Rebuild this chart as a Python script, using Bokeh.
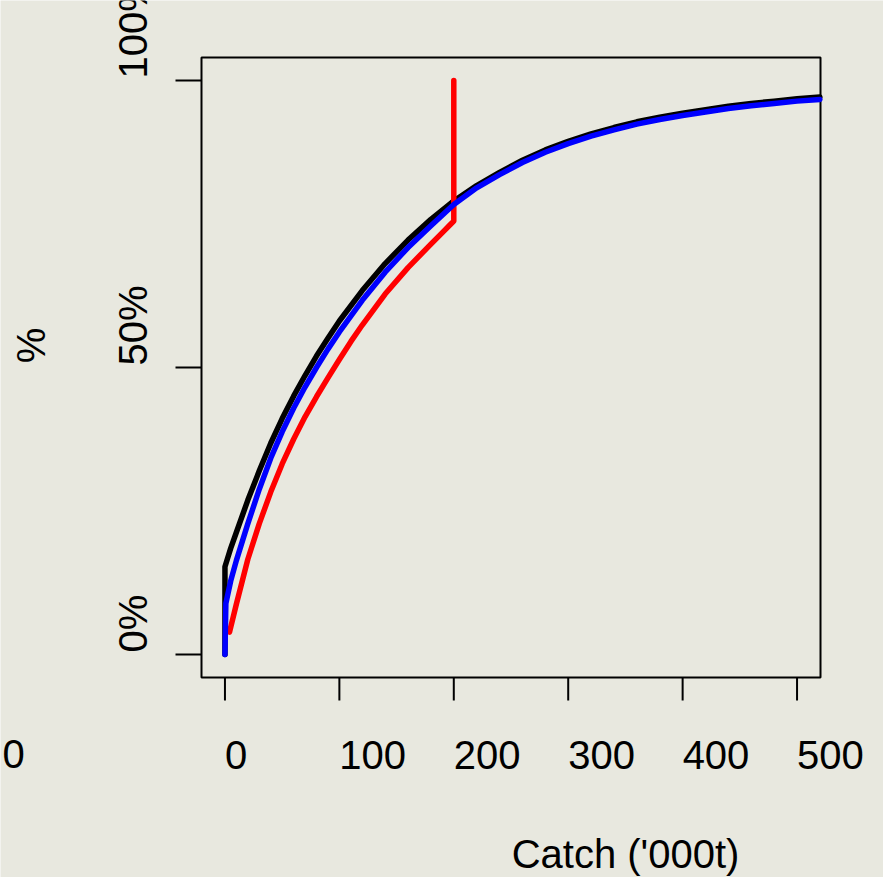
from math import pi

from bokeh.core.properties import value
from bokeh.embed import file_html
from bokeh.models import Range1d
from bokeh.plotting import figure
from bokeh.resources import INLINE

# Cumulative share of the stock (%) against catch ('000 t)
catch_black = [0, 0, 5, 10, 20, 30, 40, 50, 60, 70, 80, 90, 100, 120, 140, 160,
               180, 200, 220, 240, 260, 280, 300, 320, 340, 360, 380, 400, 420,
               440, 460, 480, 500, 520]
pct_black = [0, 15.3, 18.5, 21.3, 26.9, 32.0, 36.8, 41.1, 45.0, 48.6, 52.0, 55.1,
             58.1, 63.4, 68.1, 72.2, 75.8, 79.0, 81.7, 84.0, 86.1, 87.9, 89.4,
             90.7, 91.8, 92.8, 93.6, 94.3, 94.9, 95.5, 96.0, 96.4, 96.8, 97.1]

catch_blue = [0, 0.8, 5, 10, 20, 30, 40, 50, 60, 70, 80, 90, 100, 120, 140, 160,
              180, 200, 220, 240, 260, 280, 300, 320, 340, 360, 380, 400, 420,
              440, 460, 480, 500, 520]
pct_blue = [0, 8.9, 12.8, 16.4, 22.8, 28.8, 34.2, 38.8, 42.9, 46.6, 50.0, 53.2,
            56.2, 61.7, 66.6, 70.9, 74.7, 78.4, 81.3, 83.6, 85.7, 87.5, 89.0,
            90.3, 91.4, 92.4, 93.2, 93.9, 94.5, 95.1, 95.6, 96.0, 96.4, 96.7]

catch_red = [4, 10, 20, 30, 40, 50, 60, 70, 80, 90, 100, 110, 120, 140, 160, 180,
             190, 197, 200, 200]
pct_red = [3.9, 8.8, 16.6, 22.8, 28.3, 33.2, 37.5, 41.4, 44.9, 48.2, 51.4, 54.5,
           57.4, 62.8, 67.4, 71.5, 73.5, 74.9, 75.5, 100]

x_ticks = [0, 100, 200, 300, 400, 500]
x_tick_labels = ["0", "100", "200", "300", "400", "500"]
y_ticks = [0, 50, 100]
y_tick_labels = ["0%", "50%", "100%"]

BG = "#E8E8DF"
FONT = "Liberation Sans"
FS = "40px"

# canvas and plot-box geometry (pixels), and the box's data limits
W, H = 883, 877
LEFT, RIGHT, TOP, BOTTOM = 201, 820, 57, 677
X0, X1 = -20.5, 520.5
Y0, Y1 = -4.0, 104.0
UX = (X1 - X0) / (RIGHT - LEFT)   # data units per pixel, x
UY = (Y1 - Y0) / (BOTTOM - TOP)   # data units per pixel, y


def xd(px):
    return X0 + (px - LEFT) * UX


def yd(py):
    return Y0 + (BOTTOM - py) * UY


# the frame fills the whole canvas so the margin texts are drawn too
p = figure(width=W, height=H, output_backend="svg", toolbar_location=None,
           title=None, x_axis_location=None, y_axis_location=None,
           x_range=Range1d(xd(0), xd(W)), y_range=Range1d(yd(H), yd(0)),
           min_border=0)
p.background_fill_color = BG
p.border_fill_color = BG
p.outline_line_color = None
p.xgrid.visible = False
p.ygrid.visible = False

# plot box
p.quad(left=X0, right=X1, bottom=Y0, top=Y1, fill_color=None,
       line_color="black", line_width=2)

# outward ticks
n_x, n_y = len(x_ticks), len(y_ticks)
p.segment(x0=x_ticks, y0=[Y0] * n_x, x1=x_ticks, y1=[Y0 - 23 * UY] * n_x,
          line_color="black", line_width=2)
p.segment(x0=[X0] * n_y, y0=y_ticks, x1=[X0 - 26 * UX] * n_y, y1=y_ticks,
          line_color="black", line_width=2)

lw = 5.5
p.line(catch_black, pct_black, line_color="black", line_width=lw,
       line_join="round", line_cap="round")
p.line(catch_red, pct_red, line_color="#FF0000", line_width=lw,
       line_join="round", line_cap="round")
p.line(catch_blue, pct_blue, line_color="#0000FF", line_width=lw,
       line_join="round", line_cap="round")

txt = dict(text_font=value(FONT), text_font_size=value(FS), text_color="black",
           text_baseline="middle")

# tick labels start at their tick
p.text(x=x_ticks, y=[yd(754)] * n_x, text=x_tick_labels, text_align="left", **txt)
p.text(x=[xd(132)] * n_y, y=[t + 2 * UY for t in y_ticks], text=y_tick_labels,
       angle=pi / 2, text_align="left", **txt)

p.text(x=[xd(2)], y=[yd(753)], text=["0"], text_align="left", **txt)
p.text(x=[xd(30)], y=[yd(345)], text=["%"], angle=pi / 2, text_align="center", **txt)
p.text(x=[xd(625)], y=[yd(853)], text=["Catch ('000t)"], text_align="center", **txt)

open("out.html", "w").write(file_html(p, INLINE))
